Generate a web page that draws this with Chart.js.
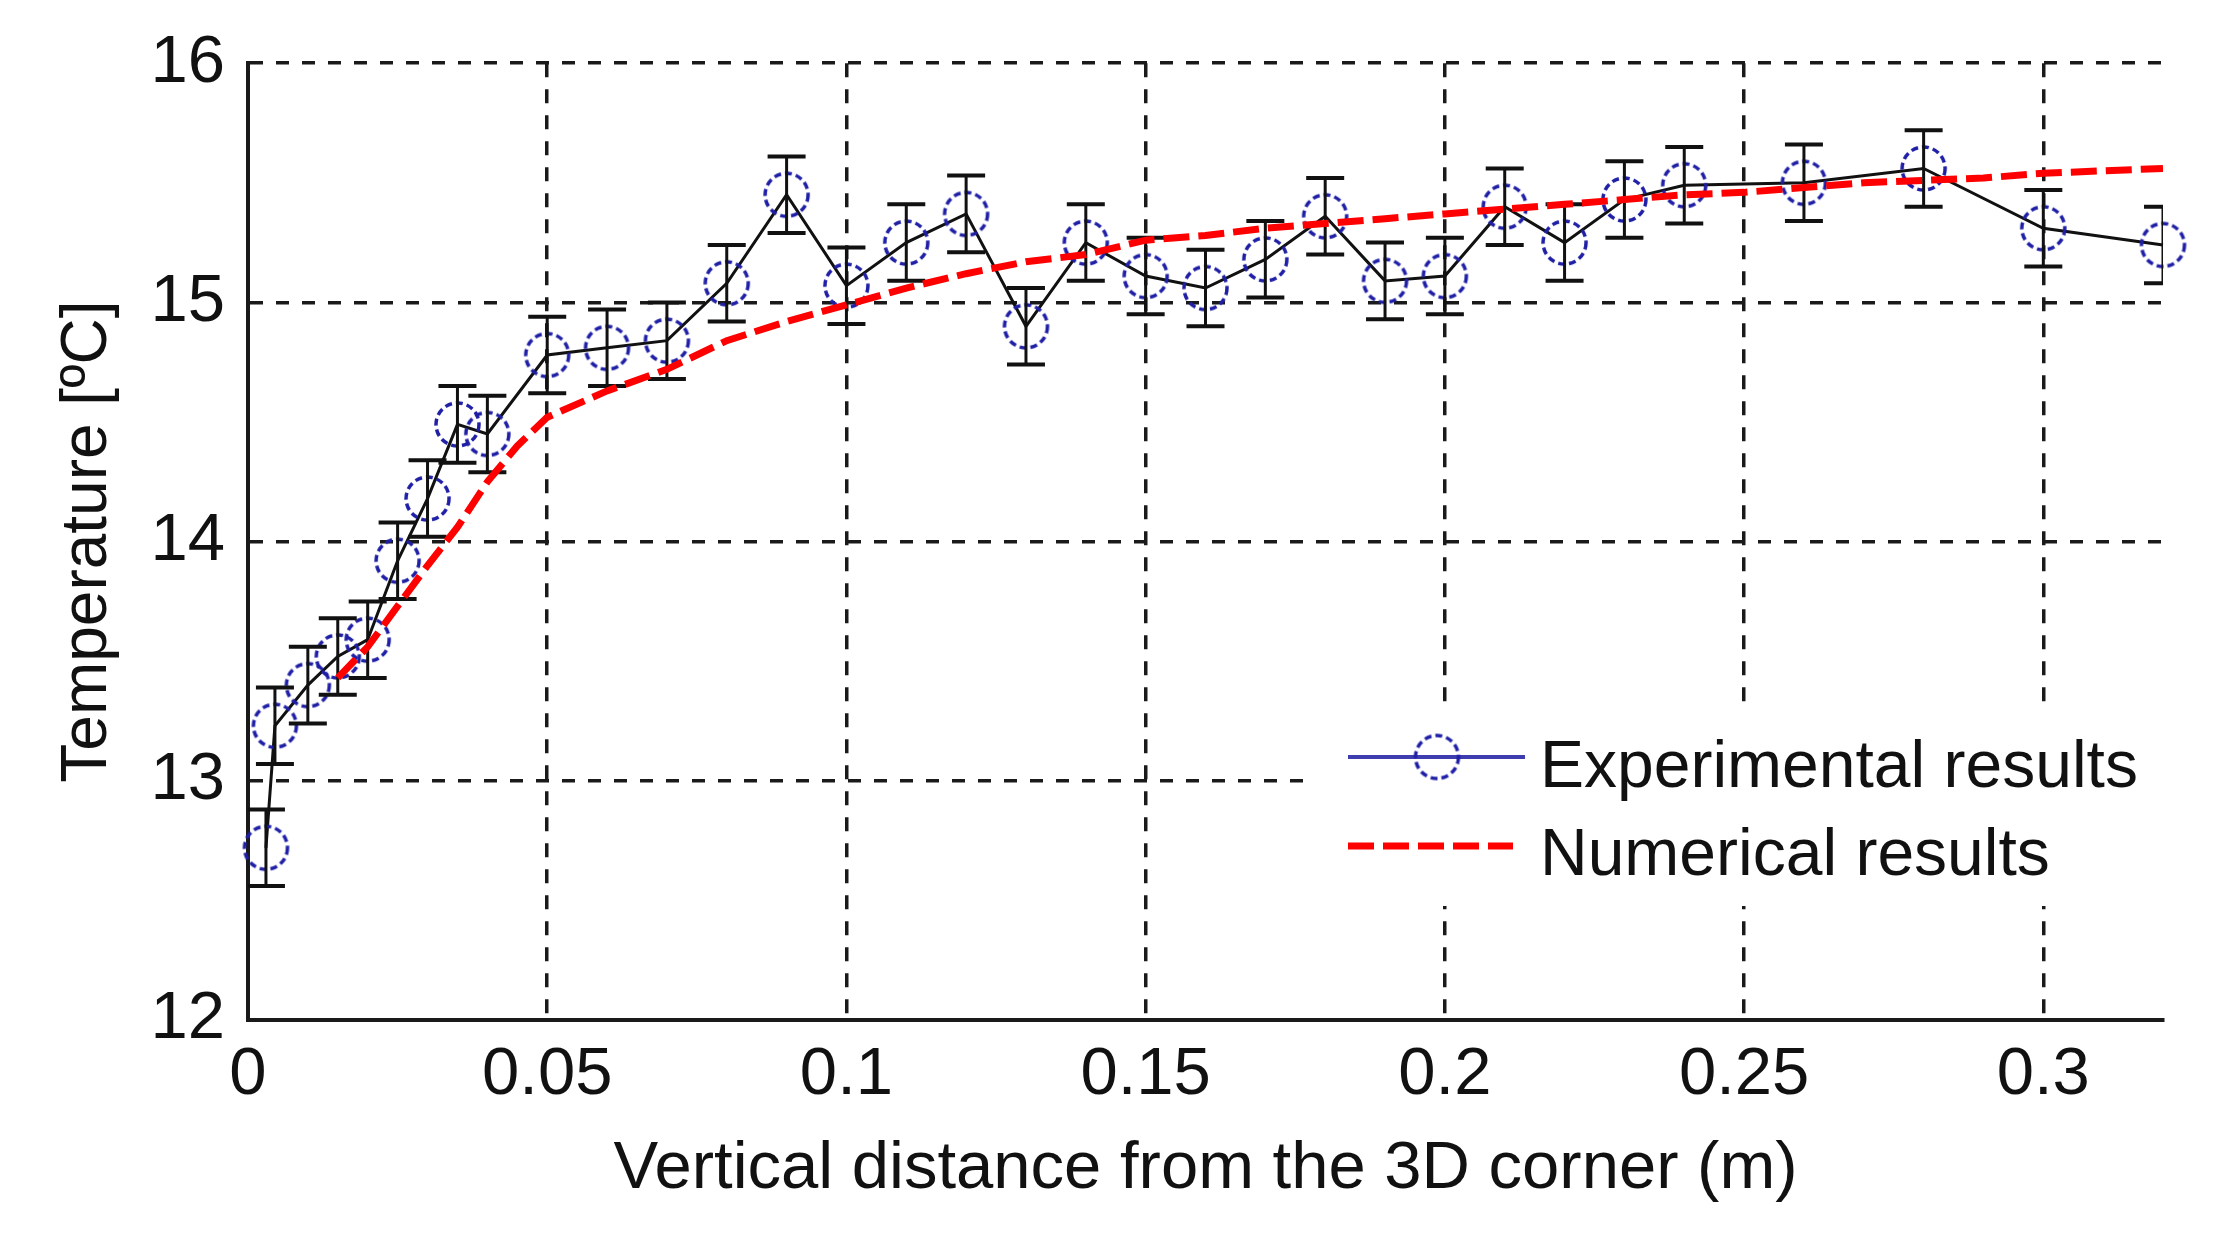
<!DOCTYPE html>
<html><head><meta charset="utf-8">
<script src="https://cdn.jsdelivr.net/npm/chart.js@4.4.0/dist/chart.umd.min.js"></script>
<style>html,body{margin:0;padding:0;background:#fff;} #wrap{width:2225px;height:1248px;position:relative;}</style>
</head><body><div id="wrap"><canvas id="c"></canvas></div>
<script>
// ---- data ----
const xTicks = [0, 0.05, 0.1, 0.15, 0.2, 0.25, 0.3];
const xTickLabels = ['0', '0.05', '0.1', '0.15', '0.2', '0.25', '0.3'];
const yTicks = [12, 13, 14, 15, 16];
const yTickLabels = ['12', '13', '14', '15', '16'];

const expX = [0.003, 0.0045, 0.01, 0.015, 0.02, 0.025, 0.03, 0.035, 0.04, 0.05, 0.06, 0.07, 0.08, 0.09, 0.10, 0.11, 0.12, 0.13, 0.14, 0.15, 0.16, 0.17, 0.18, 0.19, 0.20, 0.21, 0.22, 0.23, 0.24, 0.26, 0.28, 0.30, 0.32];
const expY = [12.72, 13.23, 13.40, 13.52, 13.59, 13.92, 14.18, 14.49, 14.45, 14.78, 14.81, 14.84, 15.08, 15.45, 15.07, 15.25, 15.37, 14.90, 15.25, 15.11, 15.06, 15.18, 15.36, 15.09, 15.11, 15.40, 15.25, 15.43, 15.49, 15.50, 15.56, 15.31, 15.24];
const expErr = [0.16, 0.16, 0.16, 0.16, 0.16, 0.16, 0.16, 0.16, 0.16, 0.16, 0.16, 0.16, 0.16, 0.16, 0.16, 0.16, 0.16, 0.16, 0.16, 0.16, 0.16, 0.16, 0.16, 0.16, 0.16, 0.16, 0.16, 0.16, 0.16, 0.16, 0.16, 0.16, 0.16];

const numX = [0.015, 0.02, 0.025, 0.03, 0.035, 0.04, 0.045, 0.05, 0.06, 0.07, 0.08, 0.09, 0.10, 0.11, 0.12, 0.13, 0.14, 0.15, 0.16, 0.17, 0.18, 0.19, 0.20, 0.21, 0.22, 0.23, 0.24, 0.25, 0.26, 0.27, 0.28, 0.29, 0.30, 0.31, 0.32];
const numY = [13.43, 13.56, 13.73, 13.90, 14.06, 14.25, 14.40, 14.52, 14.63, 14.72, 14.84, 14.92, 14.99, 15.06, 15.12, 15.17, 15.20, 15.26, 15.28, 15.31, 15.33, 15.35, 15.37, 15.39, 15.41, 15.43, 15.45, 15.46, 15.48, 15.50, 15.51, 15.52, 15.54, 15.55, 15.56];

const seriesLabels = ['Experimental results', 'Numerical results'];
const xAxisTitle = 'Vertical distance from the 3D corner (m)';
const yAxisTitle = 'Temperature [ºC]';

// ---- styles ----
const FONT = '"Liberation Sans", Arial, sans-serif';
const BLUE = '#1f1fa6';
const LEGEND_BLUE = '#3d3db0';
const RED = '#ff0000';

function makeCircle(r, lw, color, dash) {
  const c = document.createElement('canvas');
  const s = Math.ceil(2 * r + lw + 2);
  c.width = s; c.height = s;
  const g = c.getContext('2d');
  g.strokeStyle = color; g.lineWidth = lw; g.setLineDash(dash);
  g.beginPath(); g.arc(s / 2, s / 2, r, 0, Math.PI * 2); g.stroke();
  return c;
}
const circleImg = makeCircle(21.5, 3.5, BLUE, [7, 4]);

const errorBars = {
  id: 'errorBars',
  afterDatasetDraw(chart, args) {
    if (args.index !== 1) return;
    const {ctx, chartArea, scales: {x, y}} = chart;
    ctx.save();
    ctx.beginPath();
    ctx.rect(chartArea.left, chartArea.top, chartArea.right - chartArea.left, chartArea.bottom - chartArea.top);
    ctx.clip();
    ctx.strokeStyle = '#111';
    ctx.setLineDash([]);
    expX.forEach((xv, i) => {
      const px = x.getPixelForValue(xv);
      const top = y.getPixelForValue(expY[i] + expErr[i]);
      const bot = y.getPixelForValue(expY[i] - expErr[i]);
      ctx.lineWidth = 3;
      ctx.beginPath(); ctx.moveTo(px, top); ctx.lineTo(px, bot); ctx.stroke();
      ctx.lineWidth = 4;
      ctx.beginPath();
      ctx.moveTo(px - 19, top); ctx.lineTo(px + 19, top);
      ctx.moveTo(px - 19, bot); ctx.lineTo(px + 19, bot);
      ctx.stroke();
    });
    ctx.restore();
  }
};

const legendBox = {
  id: 'legendBox',
  afterDraw(chart) {
    const ctx = chart.ctx;
    const area = chart.chartArea;
    ctx.save();
    ctx.fillStyle = '#ffffff';
    ctx.fillRect(1316, 707, area.right - 1316, 199);
    // Experimental
    ctx.strokeStyle = LEGEND_BLUE; ctx.lineWidth = 4; ctx.setLineDash([]);
    ctx.beginPath(); ctx.moveTo(1348, 757); ctx.lineTo(1525, 757); ctx.stroke();
    ctx.drawImage(circleImg, 1437 - circleImg.width / 2, 757 - circleImg.height / 2);
    ctx.fillStyle = '#111';
    ctx.font = '66px ' + FONT;
    ctx.textBaseline = 'alphabetic';
    ctx.textAlign = 'left';
    ctx.fillText(seriesLabels[0], 1540, 787);
    // Numerical
    ctx.strokeStyle = RED; ctx.lineWidth = 7; ctx.setLineDash([26, 9]);
    ctx.beginPath(); ctx.moveTo(1348, 846); ctx.lineTo(1513, 846); ctx.stroke();
    ctx.setLineDash([]);
    ctx.fillText(seriesLabels[1], 1540, 875);
    ctx.restore();
  }
};

new Chart(document.getElementById('c'), {
  type: 'scatter',
  data: {
    datasets: [
      {
        label: seriesLabels[1],
        data: numX.map((x, i) => ({x: x, y: numY[i]})),
        showLine: true, borderColor: RED, backgroundColor: RED, borderWidth: 7,
        borderDash: [26, 9], pointRadius: 0, pointHoverRadius: 0, tension: 0, fill: false
      },
      {
        label: seriesLabels[0],
        data: expX.map((x, i) => ({x: x, y: expY[i]})),
        showLine: true, borderColor: '#111', backgroundColor: 'rgba(0,0,0,0)', borderWidth: 3,
        pointStyle: circleImg, pointRadius: 22, pointHoverRadius: 22, tension: 0, fill: false, clip: false
      }
    ]
  },
  options: {
    responsive: true, maintainAspectRatio: false, animation: false, events: [],
    layout: {padding: {left: 0, right: 62, top: 61, bottom: 0}},
    plugins: {legend: {display: false}, tooltip: {enabled: false}},
    scales: {
      x: {
        type: 'linear', min: 0, max: 0.32,
        afterBuildTicks: s => { s.ticks = xTicks.map(v => ({value: v})); },
        afterFit: s => { s.height = 228; },
        ticks: {callback: (v, i) => xTickLabels[i], font: {family: FONT, size: 67}, color: '#111', padding: 15, maxRotation: 0, autoSkip: false},
        grid: {color: '#1a1a1a', lineWidth: 3.5, drawTicks: false},
        border: {display: true, color: '#1a1a1a', width: 4, dash: [14, 12]},
        title: {display: true, text: xAxisTitle, font: {family: FONT, size: 67}, color: '#111', padding: {top: 0, bottom: 38}}
      },
      y: {
        type: 'linear', min: 12, max: 16,
        afterBuildTicks: s => { s.ticks = yTicks.map(v => ({value: v})); },
        afterFit: s => { s.width = 248; },
        ticks: {callback: (v, i) => yTickLabels[i], font: {family: FONT, size: 67}, color: '#111', padding: 23, autoSkip: false},
        grid: {color: '#1a1a1a', lineWidth: 3.5, drawTicks: false},
        border: {display: true, color: '#1a1a1a', width: 4, dash: [13, 13]},
        title: {display: true, text: yAxisTitle, font: {family: FONT, size: 64}, color: '#111', padding: {top: 50, bottom: 0}}
      }
    }
  },
  plugins: [errorBars, legendBox]
});
</script>
</body></html>
